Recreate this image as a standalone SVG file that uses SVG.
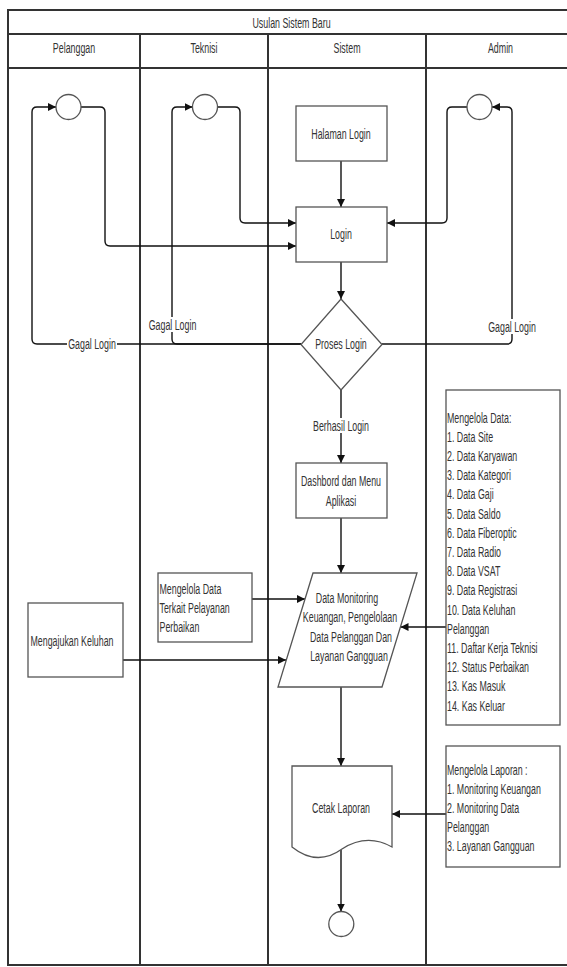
<svg xmlns="http://www.w3.org/2000/svg" width="567" height="967" viewBox="0 0 567 967">
<style>
.t{font-family:"Liberation Sans",Arial,sans-serif;font-size:15px;fill:#333}
.m{text-anchor:middle}
.box{fill:#fff;stroke:#555;stroke-width:1.3}
.ln{fill:none;stroke:#111;stroke-width:1.4}
.pool{fill:none;stroke:#333;stroke-width:2}
.bg{fill:#fff}
</style>
<defs>
<marker id="a" viewBox="0 0 10 10" refX="10" refY="5" markerWidth="8" markerHeight="8" markerUnits="userSpaceOnUse" orient="auto"><path d="M0,0 L10,5 L0,10 z" fill="#111"/></marker>
</defs>
<rect width="567" height="967" fill="#fff"/>
<g id="pool">
<rect class="pool" x="8" y="10" width="567" height="955"/>
<line class="pool" x1="8" y1="34" x2="575" y2="34"/>
<line class="pool" x1="8" y1="68" x2="575" y2="68"/>
<line class="pool" x1="140" y1="34" x2="140" y2="965"/>
<line class="pool" x1="268" y1="34" x2="268" y2="965"/>
<line class="pool" x1="426" y1="34" x2="426" y2="965"/>
<text class="t m" transform="translate(291.5 28) scale(0.59 1)">Usulan Sistem Baru</text>
<text class="t m" transform="translate(74 52.5) scale(0.59 1)">Pelanggan</text>
<text class="t m" transform="translate(204 52.5) scale(0.59 1)">Teknisi</text>
<text class="t m" transform="translate(347 52.5) scale(0.59 1)">Sistem</text>
<text class="t m" transform="translate(500.5 52.5) scale(0.59 1)">Admin</text>
</g>
<g id="connectors">
<path class="ln" d="M301,344 H37 Q32,344 32,339 V112 Q32,107 37,107 H56" marker-end="url(#a)"/>
<path class="ln" d="M301,344 H177 Q172,344 172,339 V112 Q172,107 177,107 H192.5" marker-end="url(#a)"/>
<path class="ln" d="M81,107 H100 Q105,107 105,112 V241 Q105,246 110,246 H296" marker-end="url(#a)"/>
<path class="ln" d="M217.5,107 H235 Q240,107 240,112 V218 Q240,223 245,223 H296" marker-end="url(#a)"/>
<path class="ln" d="M382,344 H507 Q512,344 512,339 V112 Q512,107 507,107 H492" marker-end="url(#a)"/>
<path class="ln" d="M467,107 H452 Q447,107 447,112 V218 Q447,223 442,223 H387" marker-end="url(#a)"/>
<path class="ln" d="M341,161 V207" marker-end="url(#a)"/>
<path class="ln" d="M341,262 V299" marker-end="url(#a)"/>
<path class="ln" d="M341,390 V463" marker-end="url(#a)"/>
<path class="ln" d="M341,518 V573" marker-end="url(#a)"/>
<path class="ln" d="M341,687 V766" marker-end="url(#a)"/>
<path class="ln" d="M341,850 V911.5" marker-end="url(#a)"/>
<path class="ln" d="M252,599 H305" marker-end="url(#a)"/>
<path class="ln" d="M123,660 H286" marker-end="url(#a)"/>
<path class="ln" d="M446,627 H400.5" marker-end="url(#a)"/>
<path class="ln" d="M446,814 H392" marker-end="url(#a)"/>
<rect class="bg" x="67" y="336" width="50" height="15"/>
<text class="t m" transform="translate(92 348.5) scale(0.59 1)">Gagal Login</text>
<rect class="bg" x="147" y="317" width="51" height="15"/>
<text class="t m" transform="translate(172.5 329.5) scale(0.59 1)">Gagal Login</text>
<rect class="bg" x="487" y="319" width="51" height="15"/>
<text class="t m" transform="translate(512 331.5) scale(0.59 1)">Gagal Login</text>
<rect class="bg" x="311" y="418" width="60" height="15"/>
<text class="t m" transform="translate(341 430.5) scale(0.59 1)">Berhasil Login</text>
</g>
<g id="start-pelanggan"><circle cx="68.5" cy="107" r="12.5" class="box"/></g>
<g id="start-teknisi"><circle cx="205" cy="107" r="12.5" class="box"/></g>
<g id="start-admin"><circle cx="479.5" cy="107" r="12.5" class="box"/></g>
<g id="halaman-login">
<rect class="box" x="296" y="106" width="91" height="55"/>
<text class="t m" transform="translate(341 138.5) scale(0.59 1)">Halaman Login</text>
</g>
<g id="login">
<rect class="box" x="296" y="207" width="91" height="55"/>
<text class="t m" transform="translate(341 238.5) scale(0.59 1)">Login</text>
</g>
<g id="proses-login">
<polygon class="box" points="341,299 382,344.5 341,390 301,344.5"/>
<text class="t m" transform="translate(341 348.5) scale(0.59 1)">Proses Login</text>
</g>
<g id="dashboard">
<rect class="box" x="296" y="463" width="91" height="55"/>
<text class="t m" transform="translate(341 485.5) scale(0.59 1)">Dashbord dan Menu</text>
<text class="t m" transform="translate(341 505.5) scale(0.59 1)">Aplikasi</text>
</g>
<g id="data-monitoring">
<polygon class="box" points="313,573 417,573 382,687 278,687"/>
<text class="t m" transform="translate(347 602.5) scale(0.59 1)">Data Monitoring</text>
<text class="t m" transform="translate(350 622) scale(0.59 1)">Keuangan, Pengelolaan</text>
<text class="t m" transform="translate(351 641.5) scale(0.59 1)">Data Pelanggan Dan</text>
<text class="t m" transform="translate(349 661) scale(0.59 1)">Layanan Gangguan</text>
</g>
<g id="kelola-teknisi">
<rect class="box" x="158" y="573" width="94" height="69"/>
<text class="t" transform="translate(159.5 593.5) scale(0.59 1)">Mengelola Data</text>
<text class="t" transform="translate(159.5 612.5) scale(0.59 1)">Terkait Pelayanan</text>
<text class="t" transform="translate(159.5 631.5) scale(0.59 1)">Perbaikan</text>
</g>
<g id="keluhan">
<rect class="box" x="28" y="603" width="95" height="74"/>
<text class="t" transform="translate(30.5 645.5) scale(0.59 1)">Mengajukan Keluhan</text>
</g>
<g id="kelola-data-admin">
<rect class="box" x="446" y="390" width="114" height="335"/>
<text class="t" transform="translate(447 422.5) scale(0.59 1)">Mengelola Data:</text>
<text class="t" transform="translate(447 441.7) scale(0.59 1)">1. Data Site</text>
<text class="t" transform="translate(447 460.9) scale(0.59 1)">2. Data Karyawan</text>
<text class="t" transform="translate(447 480.1) scale(0.59 1)">3. Data Kategori</text>
<text class="t" transform="translate(447 499.3) scale(0.59 1)">4. Data Gaji</text>
<text class="t" transform="translate(447 518.5) scale(0.59 1)">5. Data Saldo</text>
<text class="t" transform="translate(447 537.7) scale(0.59 1)">6. Data Fiberoptic</text>
<text class="t" transform="translate(447 556.9) scale(0.59 1)">7. Data Radio</text>
<text class="t" transform="translate(447 576.1) scale(0.59 1)">8. Data VSAT</text>
<text class="t" transform="translate(447 595.3) scale(0.59 1)">9. Data Registrasi</text>
<text class="t" transform="translate(447 614.5) scale(0.59 1)">10. Data Keluhan</text>
<text class="t" transform="translate(447 633.7) scale(0.59 1)">Pelanggan</text>
<text class="t" transform="translate(447 652.9) scale(0.59 1)">11. Daftar Kerja Teknisi</text>
<text class="t" transform="translate(447 672.1) scale(0.59 1)">12. Status Perbaikan</text>
<text class="t" transform="translate(447 691.3) scale(0.59 1)">13. Kas Masuk</text>
<text class="t" transform="translate(447 710.5) scale(0.59 1)">14. Kas Keluar</text>
</g>
<g id="kelola-laporan">
<rect class="box" x="446" y="746" width="114" height="121"/>
<text class="t" transform="translate(447 774.5) scale(0.59 1)">Mengelola Laporan :</text>
<text class="t" transform="translate(447 793.5) scale(0.59 1)">1. Monitoring Keuangan</text>
<text class="t" transform="translate(447 812.5) scale(0.59 1)">2. Monitoring Data</text>
<text class="t" transform="translate(447 831.5) scale(0.59 1)">Pelanggan</text>
<text class="t" transform="translate(447 850.5) scale(0.59 1)">3. Layanan Gangguan</text>
</g>
<g id="cetak-laporan">
<path class="box" d="M292,766 H392 V847 Q367,833 342,849 Q317,867 292,847 Z"/>
<text class="t m" transform="translate(341 812.5) scale(0.59 1)">Cetak Laporan</text>
</g>
<g id="end"><circle cx="341.3" cy="924" r="12.5" class="box"/></g>
</svg>
